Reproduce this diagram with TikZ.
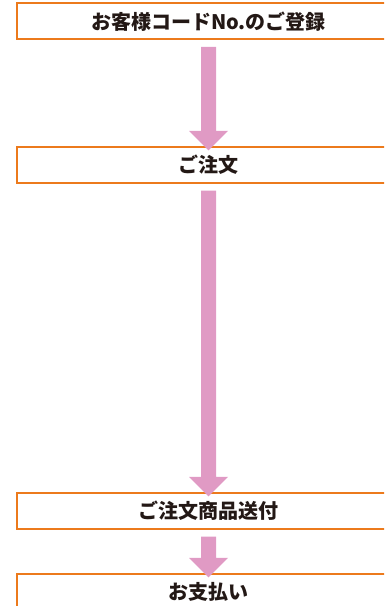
\documentclass[tikz,border=0pt]{standalone}
\usepackage{fontspec}
\newfontfamily\jpfont{Noto Sans CJK JP}
\usetikzlibrary{calc}

\definecolor{boxorange}{HTML}{EC7A1C}
\definecolor{arrowpink}{HTML}{E09AC4}
\definecolor{textdark}{HTML}{231815}

\tikzset{
    stepbox/.style={draw=boxorange, line width=2.2pt, fill=white, text=textdark,
        minimum width=383pt, minimum height=36pt, inner sep=0pt,
        font=\jpfont\bfseries\fontsize{20pt}{22pt}\selectfont},
}

% fat arrow from the bottom of one box to the top of the next
\newcommand{\flowarrow}[2]{%
    \fill[arrowpink] let \p1 = ($(#1.south)+(0,6.5)$), \p2 = ($(#2.north)+(0,4.5)$) in
        (\x1-7.5pt,\y1) -- (\x1+7.5pt,\y1) -- (\x1+7.5pt,\y2+19.5pt) -- (\x1+19.5pt,\y2+19.5pt)
        -- (\x1,\y2) -- (\x1-19.5pt,\y2+19.5pt) -- (\x1-7.5pt,\y2+19.5pt) -- cycle;
}

\begin{document}
\begin{tikzpicture}[x=1pt, y=-1pt]

    \path[use as bounding box] (0,0) rectangle (384,606);
    \clip (0,0) rectangle (384,606);

    \node[stepbox] (reg)   at (208.5, 21.3) {お客様コードNo.のご登録};
    \node[stepbox] (order) at (208.5, 165)  {ご注文};
    \node[stepbox] (ship)  at (208.5, 511)  {ご注文商品送付};
    \node[stepbox] (pay)   at (208.5, 592)  {お支払い};

    \flowarrow{reg}{order}
    \flowarrow{order}{ship}
    \flowarrow{ship}{pay}

\end{tikzpicture}
\end{document}
